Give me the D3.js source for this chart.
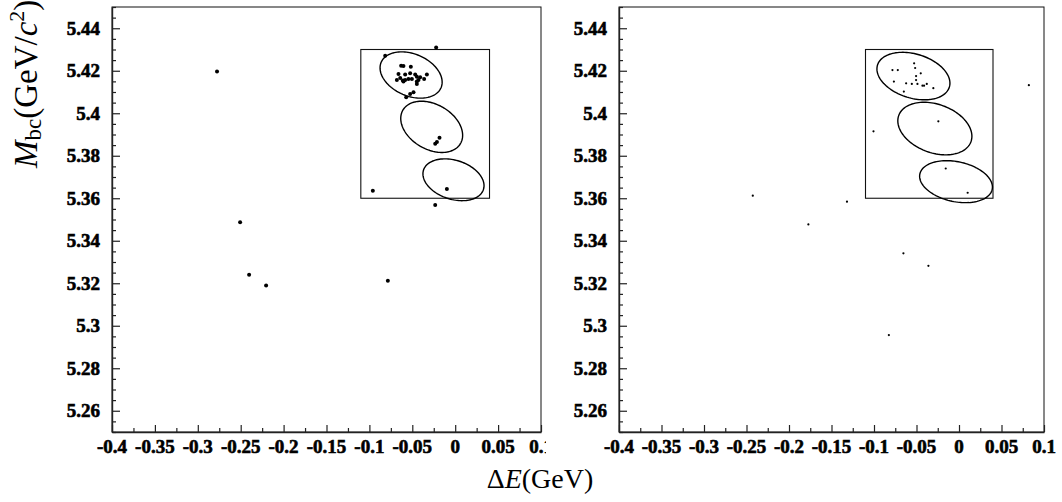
<!DOCTYPE html>
<html><head><meta charset="utf-8">
<script src="https://cdn.jsdelivr.net/npm/d3@7"></script>
<style>
html,body{margin:0;padding:0;background:#fff;}
svg{display:block;}
</style></head>
<body>
<svg id="chart" width="1062" height="502"></svg>
<script>
// ---------- data ----------
const xTickValues = [-0.4,-0.35,-0.3,-0.25,-0.2,-0.15,-0.1,-0.05,0,0.05,0.1];
const xTickLabels = ["-0.4","-0.35","-0.3","-0.25","-0.2","-0.15","-0.1","-0.05","0","0.05","0.1"];
const yTickValues = [5.26,5.28,5.30,5.32,5.34,5.36,5.38,5.40,5.42,5.44];
const yTickLabels = ["5.26","5.28","5.3","5.32","5.34","5.36","5.38","5.4","5.42","5.44"];

// left panel events
const dELeft = [-0.2776,-0.2507,-0.2402,-0.2204,-0.0785,-0.0960,-0.0097,-0.0233,-0.0222,-0.0816,
  -0.0233,-0.0213,-0.0183,
  -0.0630,-0.0603,-0.0517,-0.0661,-0.0583,-0.0525,-0.0466,-0.0447,-0.0408,-0.0330,
  -0.0680,-0.0641,-0.0610,-0.0583,-0.0545,-0.0505,-0.0447,-0.0428,-0.0362,-0.0447,
  -0.0486,-0.0525,-0.0571,-0.0603];
const mbcLeft = [5.4197,5.3487,5.3240,5.3189,5.3212,5.3635,5.3643,5.3568,5.4310,5.4271,
  5.3857,5.3865,5.3885,
  5.4224,5.4222,5.4219,5.4185,5.4182,5.4188,5.4182,5.4172,5.4169,5.4182,
  5.4156,5.4166,5.4154,5.4156,5.4161,5.4161,5.4150,5.4156,5.4161,5.4138,
  5.4099,5.4091,5.4075,5.4150];

// right panel events
const dERight = [-0.2426,-0.1318,-0.1772,-0.0654,-0.0360,-0.0825,-0.1006,-0.0243,-0.0156,0.0102,0.0822,
  -0.0783,-0.0720,-0.0528,-0.0516,-0.0450,-0.0505,-0.0505,-0.0766,-0.0622,-0.0555,-0.0489,-0.0430,-0.0411,-0.0379,-0.0302,-0.0649];
const mbcRight = [5.3612,5.3584,5.3477,5.3341,5.3282,5.2956,5.3915,5.3962,5.3740,5.3626,5.4132,
  5.4203,5.4203,5.4235,5.4213,5.4188,5.4175,5.4156,5.4149,5.4141,5.4138,5.4138,5.4130,5.4130,5.4138,5.4118,5.4102];

// signal box [dE min, dE max], [Mbc min, Mbc max]
const boxDE = [-0.11, 0.04];
const boxMbc = [5.36, 5.43];

// signal ellipses: centre, semi-axes (GeV, on the dE scale), tilt (deg)
const ellLeftDE   = [-0.0514, -0.0274, -0.0020];
const ellLeftMbc  = [5.4180, 5.3936, 5.3687];
const ellLeftA    = [0.0379, 0.0388, 0.0367];
const ellLeftB    = [0.0245, 0.0262, 0.0227];
const ellLeftTilt = [23, 30, 18];

const ellRightDE   = [-0.0536, -0.0284, -0.0035];
const ellRightMbc  = [5.4175, 5.3928, 5.3678];
const ellRightA    = [0.0442, 0.0452, 0.0435];
const ellRightB    = [0.0259, 0.0285, 0.0235];
const ellRightTilt = [17, 20, 12];

// ---------- drawing ----------
const svg = d3.select("#chart");
const FONT = "Liberation Serif";
const yDomain = [5.25, 5.45];
const xDomain = [-0.4, 0.1];
const minorY = d3.range(0, 41).map(i => +(5.25 + i*0.005).toFixed(3)).filter(v => !yTickValues.some(t => Math.abs(t-v) < 1e-6));
const minorX = d3.range(0, 10).map(i => +(-0.375 + i*0.05).toFixed(3));

svg.append("defs").append("clipPath").attr("id","clipL")
  .append("rect").attr("x",0).attr("y",0).attr("width",546).attr("height",502);

function panel(g, x0, x1, dEs, mbcs, r, ell) {
  const x = d3.scaleLinear().domain(xDomain).range([x0, x1]);
  const y = d3.scaleLinear().domain(yDomain).range([432, 7]);

  // frame
  g.append("rect").attr("x", x0).attr("y", 7).attr("width", x1-x0).attr("height", 425)
    .attr("fill","none").attr("stroke","#111").attr("stroke-width",1);

  // y axis (ticks via d3 axis, labels drawn from the same scale)
  g.append("g").attr("transform",`translate(${x0},0)`)
    .call(d3.axisLeft(y).tickValues(yTickValues).tickFormat("")
      .tickSizeInner(-8).tickSizeOuter(0));
  g.append("g").attr("transform",`translate(${x0},0)`)
    .call(d3.axisLeft(y).tickValues(minorY).tickFormat("").tickSizeInner(-4).tickSizeOuter(0))
    .select(".domain").remove();
  // x axis
  g.append("g").attr("transform",`translate(0,432)`)
    .call(d3.axisBottom(x).tickValues(xTickValues).tickFormat("")
      .tickSizeInner(-7).tickSizeOuter(0));
  g.append("g").attr("transform",`translate(0,432)`)
    .call(d3.axisBottom(x).tickValues(minorX).tickFormat("").tickSizeInner(-4).tickSizeOuter(0))
    .select(".domain").remove();

  g.selectAll(".domain").attr("stroke","#222").attr("stroke-width",1.4);
  g.selectAll(".tick line").attr("stroke","#222").attr("stroke-width",1.2);
  g.selectAll(".tick text").remove();

  g.selectAll("text.ylab").data(yTickValues).join("text").attr("class","ylab")
    .attr("x", x0 - 12).attr("y", d => y(d)).attr("dy","0.34em")
    .attr("text-anchor","end").attr("font-family",FONT).attr("font-weight","bold")
    .attr("font-size",19).attr("fill","#000").attr("stroke","#000").attr("stroke-width",0.6)
    .text((d,i) => yTickLabels[i]);
  g.selectAll("text.xlab").data(xTickValues).join("text").attr("class","xlab")
    .attr("x", d => x(d)).attr("y", 453)
    .attr("text-anchor","middle").attr("font-family",FONT).attr("font-weight","bold")
    .attr("font-size",19).attr("fill","#000").attr("stroke","#000").attr("stroke-width",0.6)
    .text((d,i) => xTickLabels[i]);

  // box
  g.append("rect").attr("x", x(boxDE[0])).attr("y", y(boxMbc[1]))
    .attr("width", x(boxDE[1]) - x(boxDE[0])).attr("height", y(boxMbc[0]) - y(boxMbc[1]))
    .attr("fill","none").attr("stroke","#111").attr("stroke-width",1.1);

  // ellipses
  const k = (x(0.1) - x(-0.4)) / 0.5;
  ell.de.forEach((c, i) => {
    const cx = x(c), cy = y(ell.mbc[i]);
    const a = ell.a[i]*k, b = ell.b[i]*k, th = ell.tilt[i]*Math.PI/180;
    const pts = d3.range(0, 121).map(j => {
      const t = j/120*2*Math.PI;
      return [cx + a*Math.cos(t)*Math.cos(th) - b*Math.sin(t)*Math.sin(th),
              cy + a*Math.cos(t)*Math.sin(th) + b*Math.sin(t)*Math.cos(th)];
    });
    g.append("path").attr("d", d3.line()(pts) + "Z")
      .attr("fill","none").attr("stroke","#000").attr("stroke-width",1.4);
  });

  // events
  g.selectAll("circle.ev").data(dEs).join("circle").attr("class","ev")
    .attr("cx", d => x(d)).attr("cy", (d,i) => y(mbcs[i])).attr("r", r).attr("fill","#000");
}

const gL = svg.append("g").attr("clip-path","url(#clipL)");
panel(gL, 112, 541, dELeft, mbcLeft, 2.0,
  {de: ellLeftDE, mbc: ellLeftMbc, a: ellLeftA, b: ellLeftB, tilt: ellLeftTilt});
const gR = svg.append("g");
panel(gR, 619, 1044, dERight, mbcRight, 1.1,
  {de: ellRightDE, mbc: ellRightMbc, a: ellRightA, b: ellRightB, tilt: ellRightTilt});

// axis titles
const xt = svg.append("text").attr("x", 540).attr("y", 488).attr("text-anchor","middle")
  .attr("font-family",FONT).attr("font-size",28).attr("fill","#000");
xt.append("tspan").text("Δ");
xt.append("tspan").attr("font-style","italic").text("E");
xt.append("tspan").text("(GeV)");

const yt = svg.append("text").attr("transform","translate(37,168) rotate(-90)")
  .attr("text-anchor","start").attr("font-family",FONT).attr("font-size",33).attr("fill","#000");
yt.append("tspan").attr("font-style","italic").text("M");
yt.append("tspan").attr("font-size",23).attr("dy",4).text("bc");
yt.append("tspan").attr("dy",-4).text("(GeV/");
yt.append("tspan").attr("font-style","italic").text("c");
yt.append("tspan").attr("font-size",22).attr("dy",-13).text("2");
yt.append("tspan").attr("dy",13).text(")");
</script>
</body></html>
